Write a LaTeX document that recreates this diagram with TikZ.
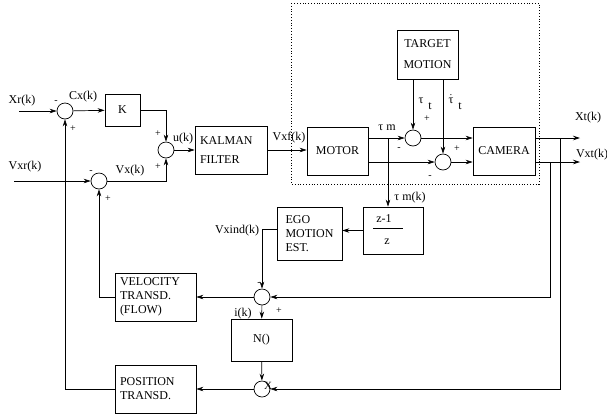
\documentclass[tikz,border=0pt]{standalone}
\usepackage{fontspec}
\setmainfont{Liberation Serif}
\usetikzlibrary{arrows.meta}
\begin{document}
\begin{tikzpicture}[x=1pt,y=-1pt,
  >={Stealth[length=7pt,width=4.5pt]},
  line width=0.7pt,
  font=\fontsize{12}{14}\selectfont,
  blk/.style={draw, line width=0.7pt, inner sep=2pt},
  sumc/.style={draw, circle, minimum size=16pt, inner sep=0pt},
  lbl/.style={inner sep=0pt},
  sgn/.style={inner sep=0pt, font=\fontsize{10}{10}\selectfont}]
\useasboundingbox (0,0) rectangle (607,416);

% dotted plant boundary
\draw[dotted, line width=0.8pt] (291,3) rectangle (539,184);

% blocks
\node[blk, minimum width=35pt, minimum height=32pt] (K) at (122.5,110) {K};
\node[blk, minimum width=72pt, minimum height=48pt, text width=62pt, align=left] (kal) at (231,150) {KALMAN\\[5pt]FILTER};
\node[blk, minimum width=61pt, minimum height=48pt] (motor) at (337.5,151) {MOTOR};
\node[blk, minimum width=61pt, minimum height=49pt, align=center] (target) at (427.5,54.5) {TARGET\\[7pt]MOTION};
\node[blk, minimum width=62pt, minimum height=48pt] (camera) at (504,151) {CAMERA};
\node[blk, minimum width=65pt, minimum height=53pt, align=left] (ego) at (309.5,233.5) {EGO\\MOTION\\EST.};
\node[blk, minimum width=60pt, minimum height=47pt] (zbox) at (393,230.5) {};
\node[lbl] (znum) at (384,219) {z-1};
\node[lbl] (zden) at (387,242) {z};
\draw[line width=0.7pt] (373,228) -- (403,228);
\node[blk, minimum width=81pt, minimum height=48pt, text width=71pt, align=left] (vel) at (155.5,297) {VELOCITY\\TRANSD.\\(FLOW)};
\node[blk, minimum width=61pt, minimum height=42pt] (N) at (261.5,340) {N()};
\node[blk, minimum width=81pt, minimum height=48pt, text width=71pt, align=left] (pos) at (155.5,389) {POSITION\\TRANSD.};

% summing junctions
\node[sumc] (cX) at (65,111) {};
\node[sumc] (cV) at (99,181) {};
\node[sumc] (cU) at (166,150) {};
\node[sumc] (c1) at (413,138) {};
\node[sumc] (c2) at (443,162) {};
\node[sumc] (cE) at (262,297) {};
\node[sumc] (cP) at (262,389) {};

% free ends and junctions
\coordinate (xrin) at (19,111);
\coordinate (vxrin) at (14,181);
\coordinate (xtout) at (580,138);
\coordinate (vxtout) at (580,162);
\coordinate (tmj) at (388,138);
\coordinate (pj) at (560,138);
\coordinate (vj) at (550,162);

% connectors
\draw[->] (xrin) -- (cX);
\draw[->] (cX) -- (K);
\draw[->] (K.east) -| (cU);
\draw[->] (cU) -- (kal);
\draw[->] (kal.east) -- (kal.east -| motor.west);
\draw[->] (vxrin) -- (cV);
\draw[->] (cV) -| (cU);
\draw[->] (vel.west) -| (cV);
\draw[->] (pos.west) -| (cX);
\draw[->] (motor.east |- c1) -- (c1);
\draw[->] (motor.east |- c2) -- (c2);
\draw[->] (target.south -| c1) -- (c1);
\draw[->] (target.south -| c2) -- (c2);
\draw[->] (c1) -- (c1 -| camera.west);
\draw[->] (c2) -- (c2 -| camera.west);
\draw[->] (camera.east |- xtout) -- (xtout);
\draw[->] (camera.east |- vxtout) -- (vxtout);
\draw[->] (vj) |- (cE);
\draw[->] (pj) |- (cP);
\draw[->] (tmj) -- (tmj |- zbox.north);
\draw[->] (zbox.west) -- (zbox.west -| ego.east);
\draw[->] ([yshift=4.5pt]ego.west) -| (cE);
\draw[->] (cE) -- (vel.east);
\draw[->] (cE) -- (N);
\draw[->] (N) -- (cP);
\draw[->] (cP) -- (pos.east);

% signal labels
\node[lbl] (lxr) at (22,101) {Xr(k)};
\node[lbl] (lcx) at (83,97) {Cx(k)};
\node[lbl] (lvxr) at (25,167) {Vxr(k)};
\node[lbl] (lvx) at (130,171) {Vx(k)};
\node[lbl] (lu) at (183,139) {u(k)};
\node[lbl] (lvxf) at (289,138) {Vxf(k)};
\node[lbl] (ltm) at (387,128) {τ m};
\node[lbl] (ltt) at (421,101) {τ};
\node[lbl] (ltts) at (430,106) {t};
\node[lbl] (lttd) at (451,99) {$\dot{\hbox{τ}}$};
\node[lbl] (lttds) at (460,106) {t};
\node[lbl] (lxt) at (588,118) {Xt(k)};
\node[lbl] (lvxt) at (592,155) {Vxt(k)};
\node[lbl] (ltmk) at (410,198) {τ m(k)};
\node[lbl] (lvxind) at (237,231) {Vxind(k)};
\node[lbl] (li) at (243,314) {i(k)};
\node[lbl, font=\fontsize{11}{11}\selectfont] (lX) at (268,386) {X};

% signs
\node[sgn] (s1) at (56,102) {-};
\node[sgn] (s2) at (73,129) {+};
\node[sgn] (s3) at (158,134) {+};
\node[sgn] (s4) at (158,167) {+};
\node[sgn] (s5) at (91,172) {-};
\node[sgn] (s6) at (108,199) {+};
\node[sgn] (s7) at (427,119) {+};
\node[sgn] (s8) at (399,149) {-};
\node[sgn] (s9) at (457,149) {+};
\node[sgn] (s10) at (430,177) {-};
\node[sgn] (s11) at (259,284) {-};
\node[sgn] (s12) at (279,311) {+};
\end{tikzpicture}
\end{document}
